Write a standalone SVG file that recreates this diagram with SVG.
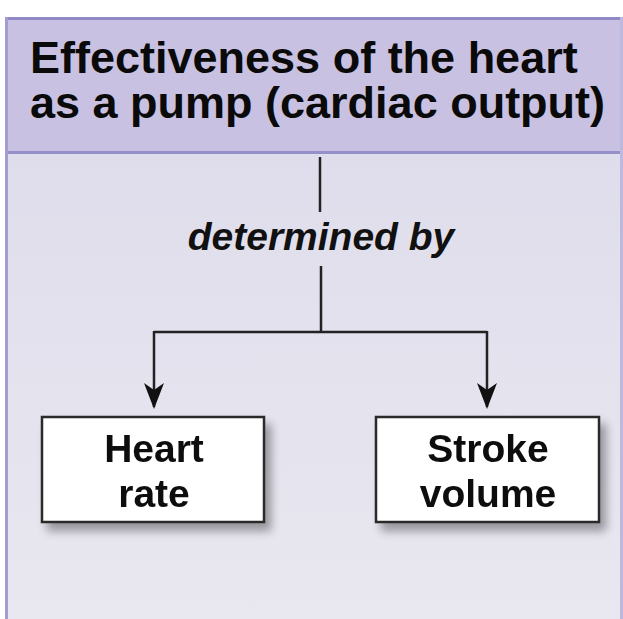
<svg xmlns="http://www.w3.org/2000/svg" width="623" height="619" viewBox="0 0 623 619">
<defs>
<style>
.title{font-family:"Liberation Sans",Arial,sans-serif;font-weight:bold;font-size:45px;fill:#0a0a0a}
.lbl{font-family:"Liberation Sans",Arial,sans-serif;font-weight:bold;font-size:39px;fill:#111;text-anchor:middle}
.mid{font-family:"Liberation Sans",Arial,sans-serif;font-weight:bold;font-style:italic;font-size:39px;fill:#111;text-anchor:middle}
.box{fill:#fff;stroke:#2a2a2a;stroke-width:2.5}
.conn{fill:none;stroke:#222;stroke-width:2.5}
</style>
<linearGradient id="body" x1="0" y1="0" x2="0" y2="1">
<stop offset="0" stop-color="#dcdaea"/>
<stop offset="1" stop-color="#e9e8f0"/>
</linearGradient>
<filter id="sh" x="-20%" y="-20%" width="150%" height="160%">
<feGaussianBlur in="SourceAlpha" stdDeviation="5"/>
<feOffset dx="6" dy="8" result="b"/>
<feComponentTransfer><feFuncA type="linear" slope="0.35"/></feComponentTransfer>
<feMerge><feMergeNode/><feMergeNode in="SourceGraphic"/></feMerge>
</filter>
<marker id="arr" markerWidth="26" markerHeight="20" refX="24" refY="10" orient="auto" markerUnits="userSpaceOnUse" viewBox="0 0 26 20">
<path d="M0,0 L26,10 L0,20 L7,10 Z" fill="#111"/>
</marker>
</defs>
<rect width="623" height="619" fill="#ffffff"/>
<g id="panel">
<rect x="5" y="17" width="625" height="610" fill="url(#body)"/>
<rect x="5" y="17" width="625" height="136" fill="#c8c1e1"/>
<line x1="5" y1="152.5" x2="623" y2="152.5" stroke="#958fca" stroke-width="3"/>
<line x1="5" y1="18.5" x2="623" y2="18.5" stroke="#8e88c6" stroke-width="3"/>
<line x1="6.5" y1="17" x2="6.5" y2="619" stroke="#a29dd2" stroke-width="3"/>
<line x1="621.5" y1="17" x2="621.5" y2="619" stroke="#bdb8de" stroke-width="3"/>
</g>
<g id="title">
<text class="title" x="30" y="73"><tspan x="30" y="73">Effectiveness of the heart</tspan><tspan x="30" y="118">as a pump (cardiac output)</tspan></text>
</g>
<g id="connectors">
<line class="conn" x1="320" y1="157" x2="320" y2="212"/>
<path class="conn" d="M321,266 V332 M154,332 H487"/>
<line class="conn" x1="154" y1="331" x2="154" y2="407" marker-end="url(#arr)"/>
<line class="conn" x1="487" y1="331" x2="487" y2="407" marker-end="url(#arr)"/>
<text class="mid" x="321" y="250">determined by</text>
</g>
<g id="heart-rate" filter="url(#sh)">
<rect class="box" x="42" y="417" width="222" height="105"/>
<text class="lbl" x="154" y="462">Heart</text>
<text class="lbl" x="154" y="507">rate</text>
</g>
<g id="stroke-volume" filter="url(#sh)">
<rect class="box" x="376" y="417" width="223" height="105"/>
<text class="lbl" x="488" y="462">Stroke</text>
<text class="lbl" x="488" y="507">volume</text>
</g>
</svg>
